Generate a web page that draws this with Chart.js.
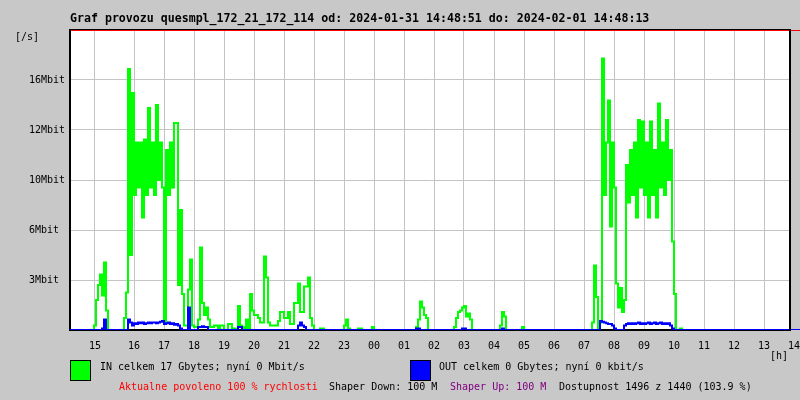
<!DOCTYPE html>
<html><head><meta charset="utf-8">
<script src="https://cdn.jsdelivr.net/npm/chart.js@4/dist/chart.umd.min.js"></script>
<style>html,body{margin:0;padding:0;background:#c8c8c8;}#wrap{width:800px;height:400px;}</style>
</head><body><div id="wrap"><canvas id="c" width="800" height="400"></canvas></div>
<script>
// ---- data ----
const titleText = 'Graf provozu quesmpl_172_21_172_114 od: 2024-01-31 14:48:51 do: 2024-02-01 14:48:13';
const yUnitText = '[/s]';
const xUnitText = '[h]';
const inLegendText = 'IN celkem 17 Gbytes; nyní 0 Mbit/s';
const outLegendText = 'OUT celkem 0 Gbytes; nyní 0 kbit/s';
const statusTexts = ['Aktualne povoleno 100 % rychlosti', 'Shaper Down: 100 M', 'Shaper Up: 100 M', 'Dostupnost 1496 z 1440 (103.9 %)'];

const startHour = 13 + 52 / 60;   // first sample (hours, continues past 24)
const sampleMinutes = 4;          // one sample every 4 minutes
const spanHours = 24;

const hourTicks = [14.7, 16, 17, 18, 19, 20, 21, 22, 23, 24, 25, 26, 27, 28, 29, 30, 31, 32, 33, 34, 35, 36, 37, 38];
const hourLabels = ['15','16','17','18','19','20','21','22','23','00','01','02','03','04','05','06','07','08','09','10','11','12','13','14'];

const yTickValues = [0, 10/3, 20/3, 10, 40/3, 50/3, 20];
const yTickLabels = ['', '3Mbit', '6Mbit', '10Mbit', '12Mbit', '16Mbit', ''];
const yMax = 20;

// IN traffic (Mbit/s), one value per sample
const inMbit = [
  0,0,0,0,0,0,0,0,0,0,0,0,
  0.3,2.0,3.0,3.7,2.3,4.5,1.3,
  0,0,0,0,0,0,0,0,
  0.8,2.5,17.4,5,15.8,9,12.5,9.5,12.5,7.5,
  12.7,9,14.8,9.5,12.5,9,15,10,12.5,9.5,
  0.5,12,9,12.5,9.5,13.8,13.8,3,8,2.4,
  0.3,0.3,2.7,4.7,
  0.3,0.2,0.2,0.7,5.5,1.8,1.0,1.5,0.7,0.2,
  0.2,0.3,0.3,0,0.3,0.3,0,0,0.4,0.4,
  0.1,0.1,0.1,1.6,0.3,0.2,0,0.7,0,2.4,
  1.3,1.0,1.0,0.8,0.5,0.5,
  4.9,3.5,0.5,0.3,0.3,0.3,0.3,0.6,1.2,1.2,
  0.8,0.8,1.2,0.4,0.4,1.8,1.8,3.1,1.2,1.2,
  2.9,2.9,3.5,0.8,0.3,0,0,0,0.1,0.1,
  0,0,0,0,0,0,0,0,0,0,
  0.3,0.7,0.1,
  0,0,0,0,
  0.1,0.1,
  0,0,0,0,0,
  0.2,
  0,0,0,0,0,0,0,0,0,0,0,0,0,0,0,0,0,0,0,0,0,
  0.2,0.7,1.9,1.5,1.0,0.8,
  0,0,0,0,0,0,0,0,0,0,0,0,0,
  0.2,0.8,1.2,1.3,1.5,1.6,0.9,1.1,0.7,
  0,0,0,0,0,0,0,0,0,0,0,0,0,0,
  0.3,1.2,0.9,
  0,0,0,0,0,0,0,0,
  0.2,
  0,0,0,0,0,0,0,0,0,0,0,0,0,0,0,0,0,0,0,0,0,0,0,0,0,0,0,0,0,0,0,0,0,0,
  0.5,4.3,2.2,0,0.5,18.1,9,12.5,15.3,6.9,
  12.5,9.5,3.1,1.5,2.8,1.2,2.0,11,8.5,12,
  9,12.5,7.5,14,9.5,13.9,9,12.5,7.5,13.9,
  9,12,7.5,15.1,9.5,12.5,9,14,10,12,
  5.9,2.4,0,0,0.1,
  0,0,0,0,0,0,0,0,0,0,0,0,0,0,0,0,0,0,0,0,0,0,0,0,0,0,0,0,
  0,0,0,0,0,0,0,0,0,0,0,0,0,0,0,0,0,0,0,0,0,0,0,0,0,0,0
];

// OUT traffic (Mbit/s), one value per sample
const outMbit = [
  0,0,0,0,0,0,0,0,0,0,0,0,0,0,0,0,
  0.1,0.7,
  0,0,0,0,0,0,0,0,0,0,0,
  0.7,0.5,0.3,0.45,0.4,0.5,0.45,0.5,0.4,0.45,
  0.5,0.45,0.5,0.5,0.45,0.5,0.55,0.6,0.4,0.45,
  0.5,0.4,0.45,0.35,0.4,0.3,0.1,
  0,0,0,
  1.5,
  0,0,0,0,
  0.2,0.2,0.25,0.2,0.2,
  0,0,0,0,0,0,0,0,0,0,0,0,0,0,0,
  0.2,0.2,
  0,0,0,0,0,0,0,0,0,0,0,0,0,0,0,0,0,0,0,0,0,0,0,0,0,0,0,0,
  0.3,0.5,0.3,0.2,
  0,0,0,0,0,0,0,0,0,0,0,0,0,0,0,0,0,0,0,0,0,0,0,0,0,0,0,0,
  0,0,0,0,0,0,0,0,0,0,0,0,0,0,0,0,0,0,0,0,0,0,0,0,0,0,0,
  0.1,0.1,
  0,0,0,0,0,0,0,0,0,0,0,0,0,0,0,0,0,0,0,0,0,
  0.1,0.1,
  0,0,0,0,0,0,0,0,0,0,0,0,0,0,0,0,0,0,
  0.1,
  0,0,0,0,0,0,0,0,0,0,0,0,0,0,0,0,0,0,0,0,0,0,0,0,
  0,0,0,0,0,0,0,0,0,0,0,0,0,0,0,0,0,0,0,0,0,0,0,0,
  0.6,0.55,0.5,0.45,0.4,0.4,0.3,0.1,
  0,0,0,0,
  0.3,0.4,0.45,0.4,0.45,0.4,0.45,0.5,0.4,0.45,
  0.4,0.45,0.5,0.4,0.45,0.5,0.4,0.45,0.5,0.4,
  0.45,0.4,0.45,0.3,0.1,
  0,0,0,0,0,0,0,0,0,0,0,0,0,0,0,0,0,0,0,0,0,0,0,0,0,0,0,0,0,0,
  0,0,0,0,0,0,0,0,0,0,0,0,0,0,0,0,0,0,0,0,0,0,0,0,0,0,0,0,0
];

// ---- style ----
const BG = '#c8c8c8';
const GRID = '#c4c4c4';
const MONO = '"DejaVu Sans Mono", "Liberation Mono", monospace';

const toPoints = arr => arr.map((v, i) => ({ x: startHour + i * sampleMinutes / 60, y: v }));
const xMax = startHour + spanHours;

const framePlugin = {
  id: 'frame',
  beforeDraw(chart) {
    const { ctx, chartArea: a } = chart;
    ctx.save();
    ctx.fillStyle = BG;
    ctx.fillRect(0, 0, chart.width, chart.height);
    ctx.fillStyle = '#ffffff';
    ctx.fillRect(a.left, a.top, a.right - a.left, a.bottom - a.top);
    ctx.restore();
  },
  afterDraw(chart) {
    const { ctx, chartArea: a } = chart;
    ctx.save();
    // frame lines
    ctx.fillStyle = '#000000';
    ctx.fillRect(a.left - 1, a.top - 1, a.right - a.left + 1, 1);
    ctx.fillStyle = '#ff0000';
    ctx.fillRect(a.left + 1, a.top, chart.width - a.left - 1, 1);
    ctx.fillStyle = '#000000';
    ctx.fillRect(a.right - 1, a.top - 1, 2, a.bottom - a.top + 1);
    ctx.fillStyle = '#0000ff';
    ctx.fillRect(a.right + 1, a.bottom - 1, chart.width - a.right, 1);

    // title
    ctx.textBaseline = 'middle';
    ctx.textAlign = 'left';
    ctx.fillStyle = '#000000';
    ctx.font = 'bold 11.6px ' + MONO;
    ctx.fillText(titleText, a.left, 19);

    ctx.font = '10px ' + MONO;
    ctx.fillText(yUnitText, 15, 37);
    ctx.fillText(xUnitText, 770, 356);

    // legend boxes
    ctx.lineWidth = 1;
    ctx.strokeStyle = '#000000';
    ctx.fillStyle = '#00ff00';
    ctx.fillRect(70, 360, 21, 21);
    ctx.strokeRect(70.5, 360.5, 20, 20);
    ctx.fillStyle = '#0000ff';
    ctx.fillRect(410, 360, 21, 21);
    ctx.strokeRect(410.5, 360.5, 20, 20);

    ctx.fillStyle = '#000000';
    ctx.fillText(inLegendText, 100, 367.5);
    ctx.fillText(outLegendText, 439, 367.5);

    ctx.fillStyle = '#ff0000';
    ctx.fillText(statusTexts[0], 119, 387.5);
    ctx.fillStyle = '#000000';
    ctx.fillText(statusTexts[1], 329, 387.5);
    ctx.fillStyle = '#800080';
    ctx.fillText(statusTexts[2], 450, 387.5);
    ctx.fillStyle = '#000000';
    ctx.fillText(statusTexts[3], 559, 387.5);
    ctx.restore();
  }
};

Chart.defaults.font.family = MONO;
Chart.defaults.font.size = 10;
Chart.defaults.color = '#000000';

new Chart(document.getElementById('c'), {
  type: 'line',
  data: {
    datasets: [
      { label: 'OUT', data: toPoints(outMbit), borderColor: '#0000ff', borderWidth: 2,
        stepped: true, pointRadius: 0, fill: false },
      { label: 'IN', data: toPoints(inMbit), borderColor: '#00ff00', borderWidth: 2,
        stepped: true, pointRadius: 0, fill: false }
    ]
  },
  options: {
    responsive: false,
    animation: false,
    devicePixelRatio: 1,
    layout: { padding: { left: 29, top: 30, right: 10, bottom: 0 } },
    plugins: { legend: { display: false }, tooltip: { enabled: false }, title: { display: false } },
    scales: {
      x: {
        type: 'linear',
        min: startHour,
        max: xMax,
        afterBuildTicks: s => { s.ticks = hourTicks.map(v => ({ value: v })); },
        afterFit: s => { s.height = 70; s.paddingLeft = 0; s.paddingRight = 0; },
        ticks: {
          autoSkip: false, maxRotation: 0, minRotation: 0, padding: 10,
          font: { family: MONO, size: 10 }, color: '#000000',
          callback: (v, i) => hourLabels[i]
        },
        grid: {
          drawTicks: false,
          color: c => (c.tick && c.tick.value > xMax) ? 'rgba(0,0,0,0)' : GRID,
          lineWidth: 1
        },
        border: { display: true, color: '#000000', width: 2 }
      },
      y: {
        type: 'linear',
        min: 0,
        max: yMax,
        afterBuildTicks: s => { s.ticks = yTickValues.map(v => ({ value: v })); },
        afterFit: s => { s.width = 41; s.paddingTop = 0; s.paddingBottom = 0; },
        ticks: {
          crossAlign: 'far', padding: 0,
          font: { family: MONO, size: 10 }, color: '#000000',
          callback: (v, i) => yTickLabels[i]
        },
        grid: {
          drawTicks: false,
          color: c => (c.tick && c.tick.value >= yMax) ? 'rgba(0,0,0,0)' : GRID,
          lineWidth: 1
        },
        border: { display: true, color: '#000000', width: 2 }
      }
    }
  },
  plugins: [framePlugin]
});
</script></body></html>
